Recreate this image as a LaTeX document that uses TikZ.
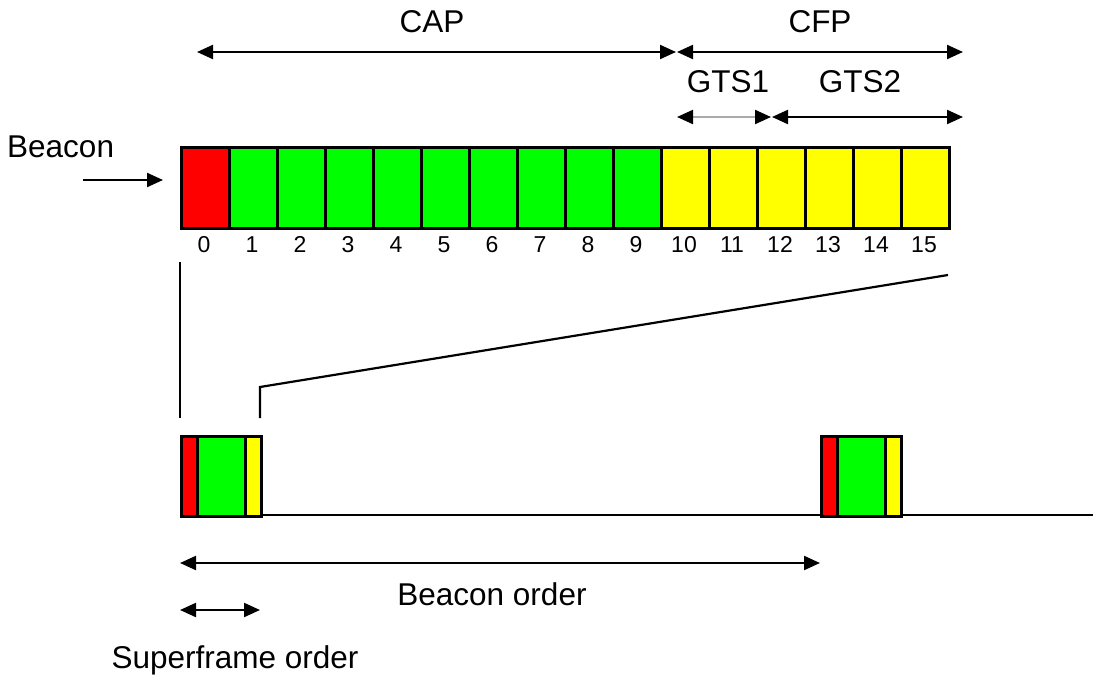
\documentclass[tikz,border=0pt]{standalone}
\usepackage{fontspec}
\setmainfont{Liberation Sans}
\usetikzlibrary{arrows.meta}
\tikzset{
  slot/.style={draw=black, line width=2.6pt, minimum width=48pt, minimum height=81pt, inner sep=0pt, anchor=north west},
  mini/.style={draw=black, line width=2.6pt, minimum height=80pt, inner sep=0pt, anchor=north west},
  num/.style={font=\fontsize{23}{27}\selectfont, inner sep=0pt, anchor=base},
  lbl/.style={font=\fontsize{31.5}{36}\selectfont, inner sep=0pt},
  dbl/.style={line width=2.2pt, {Triangle[length=16pt,width=14pt,color=black]}-{Triangle[length=16pt,width=14pt,color=black]}},
  sgl/.style={line width=2.2pt, -{Triangle[length=16pt,width=14pt]}},
  plain/.style={line width=2.2pt},
  redc/.style={fill={rgb,255:red,255;green,0;blue,0}},
  greenc/.style={fill={rgb,255:red,0;green,255;blue,0}},
  yellowc/.style={fill={rgb,255:red,255;green,255;blue,0}}
}
\begin{document}
\begin{tikzpicture}[x=1pt,y=-1pt]
\useasboundingbox (0,0) rectangle (1093,675);
% top slots
\node[slot,redc] (s0) at (180,146) {};
\foreach \i in {1,...,9}{
  \node[slot,greenc] (s\i) at (180+48*\i,146) {};
}
\foreach \i in {10,...,15}{
  \node[slot,yellowc] (s\i) at (180+48*\i,146) {};
}
\foreach \i in {0,...,15}{
  \node[num] (n\i) at (204+48*\i,252) {\i};
}
% top arrows
\coordinate (capL) at (197,52);
\coordinate (capR) at (676,52);
\coordinate (cfpL) at (677,52);
\coordinate (cfpR) at (963,52);
\draw[dbl] (capL) -- (capR);
\draw[dbl] (cfpL) -- (cfpR);
\node[lbl] (cap) at (432,22) {CAP};
\node[lbl] (cfp) at (820,22) {CFP};
\coordinate (g1L) at (677,117);
\coordinate (g1R) at (771,117);
\coordinate (g2L) at (772,117);
\coordinate (g2R) at (963,117);
\draw[dbl, draw={rgb,255:red,170;green,170;blue,170}] (g1L) -- (g1R);
\draw[dbl] (g2L) -- (g2R);
\node[lbl] (gts1) at (728,82) {GTS1};
\node[lbl] (gts2) at (860,82) {GTS2};
% beacon
\node[lbl, anchor=west] (beacon) at (7,147) {Beacon};
\coordinate (bA) at (83,180);
\coordinate (bB) at (163,180);
\draw[sgl] (bA) -- (bB);
% zoom lines
\coordinate (z1) at (180,262);
\coordinate (z2) at (180,418);
\coordinate (z3) at (260,418);
\coordinate (z4) at (260,387);
\coordinate (z5) at (948,275);
\draw[plain] (z1) -- (z2);
\draw[plain] (z3) -- (z4) -- (z5);
% bottom timeline
\coordinate (tl0) at (180,515);
\coordinate (tl1) at (1093,515);
\draw[plain] (tl0) -- (tl1);
\node[mini,redc,minimum width=16pt] (r1) at (180,435) {};
\node[mini,greenc,minimum width=48pt] (g1) at (196,435) {};
\node[mini,yellowc,minimum width=16pt] (y1) at (244,435) {};
\node[mini,redc,minimum width=16pt] (r2) at (820,435) {};
\node[mini,greenc,minimum width=48pt] (g2) at (836,435) {};
\node[mini,yellowc,minimum width=16pt] (y2) at (884,435) {};
% orders
\coordinate (boL) at (180,563);
\coordinate (boR) at (820,563);
\draw[dbl] (boL) -- (boR);
\node[lbl] (bo) at (492,594) {Beacon order};
\coordinate (soL) at (180,610);
\coordinate (soR) at (260,610);
\draw[dbl] (soL) -- (soR);
\node[lbl] (so) at (235,660) {Superframe order};
\end{tikzpicture}
\end{document}
